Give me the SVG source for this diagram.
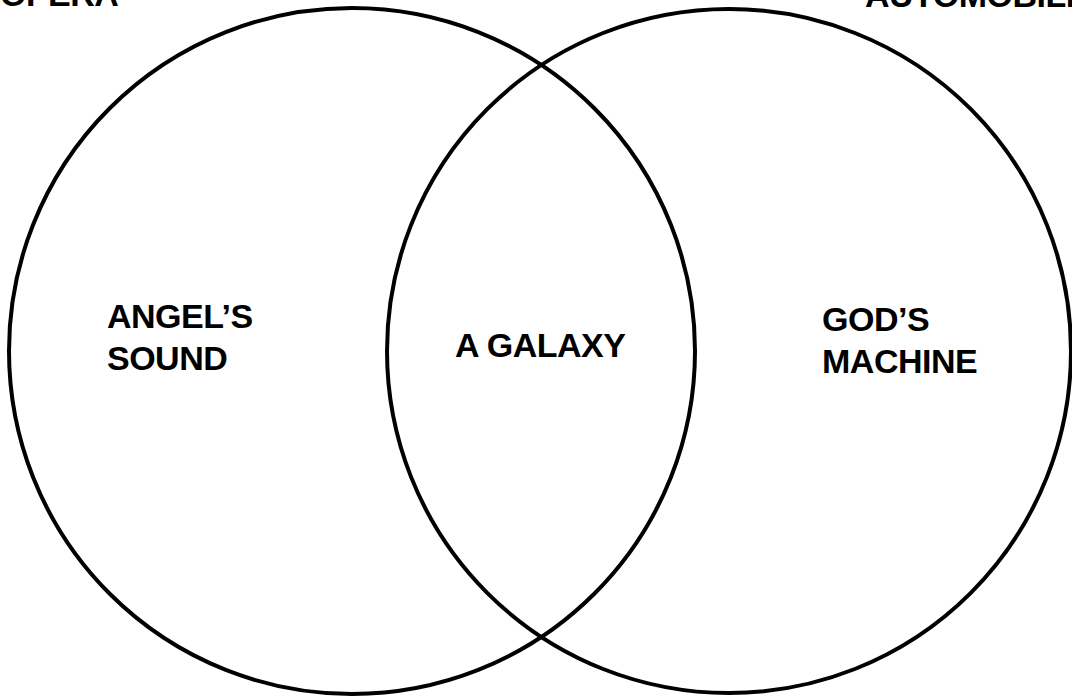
<svg xmlns="http://www.w3.org/2000/svg" width="1072" height="700" viewBox="0 0 1072 700">
<style>
.c{fill:none;stroke:#000;stroke-width:4}
.t{font-family:"Liberation Sans",Arial,sans-serif;font-weight:bold;font-size:34px;fill:#000;letter-spacing:-0.5px}
</style>
<rect width="1072" height="700" fill="#fff"/>
<g id="opera">
<circle class="c" cx="352" cy="351" r="343"/>
<text class="t" x="0" y="6">OPERA</text>
</g>
<g id="automobile">
<circle class="c" cx="729" cy="351" r="342"/>
<text class="t" x="865" y="7">AUTOMOBILE</text>
</g>
<g id="angels-sound">
<text class="t" x="107" y="328">ANGEL’S</text>
<text class="t" x="107" y="370">SOUND</text>
</g>
<g id="a-galaxy">
<text class="t" x="455" y="357">A GALAXY</text>
</g>
<g id="gods-machine">
<text class="t" x="822" y="331">GOD’S</text>
<text class="t" x="822" y="373">MACHINE</text>
</g>
<g id="connectors"></g>
</svg>
